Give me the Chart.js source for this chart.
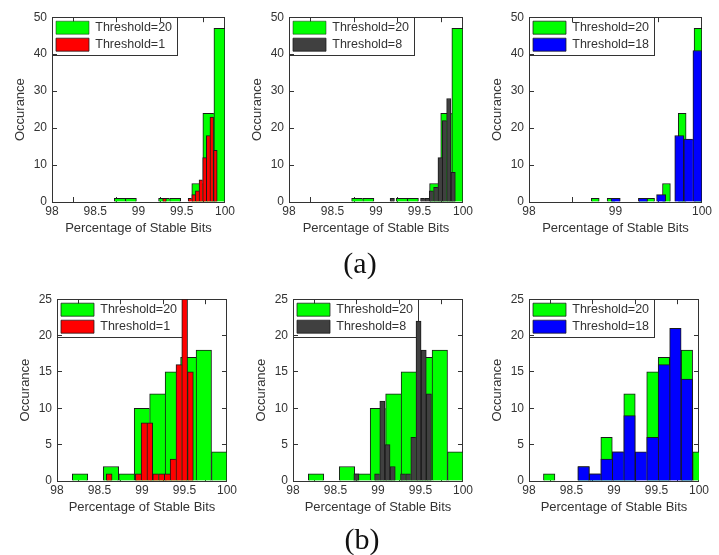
<!DOCTYPE html>
<html>
<head>
<meta charset="utf-8">
<script src="https://cdn.jsdelivr.net/npm/chart.js@4.4.1/dist/chart.umd.min.js"></script>
<style>
  html, body { margin: 0; padding: 0; background: #fff; }
  #fig { position: relative; width: 719px; height: 555px; overflow: hidden; background: #fff; }
  #fig canvas { position: absolute; }
  .cap { position: absolute; font-family: "Liberation Serif", "Times New Roman", serif; font-size: 30px; color: #111; transform: translate(-50%, -50%); }
</style>
</head>
<body>
<div id="fig">
  <canvas id="a1"></canvas>
  <canvas id="a2"></canvas>
  <canvas id="a3"></canvas>
  <canvas id="b1"></canvas>
  <canvas id="b2"></canvas>
  <canvas id="b3"></canvas>
  <div class="cap" style="left:360px; top:263px;">(a)</div>
  <div class="cap" style="left:362px; top:539px;">(b)</div>
</div>
<script>
// histogram bins: bin centres (% stable bits) and counts

// (a) threshold=20 reference, 10 bins
const aT20Centers = [98.784, 98.912, 99.040, 99.168, 99.296, 99.424, 99.552, 99.680, 99.808, 99.936];
const aT20Counts  = [1, 1, 0, 0, 1, 1, 0, 5, 24, 47];
// (a) threshold=1
const aT1Centers = [99.301, 99.343, 99.385, 99.427, 99.469, 99.511, 99.553, 99.595, 99.637, 99.679, 99.721, 99.763, 99.805, 99.847, 99.889];
const aT1Counts  = [1, 0, 0, 0, 0, 0, 0, 1, 2, 3, 6, 12, 18, 23, 14];
// (a) threshold=8
const aT8Centers = [99.187, 99.237, 99.287, 99.337, 99.387, 99.437, 99.487, 99.537, 99.587, 99.637, 99.687, 99.737, 99.787, 99.837, 99.887];
const aT8Counts  = [1, 0, 0, 0, 0, 0, 0, 1, 1, 3, 4, 12, 22, 28, 8];
// (a) third panel: threshold=20 with finer bins, and threshold=18
const aT20bCenters = [98.766, 98.857, 98.949, 99.040, 99.131, 99.223, 99.314, 99.406, 99.497, 99.589, 99.680, 99.771, 99.863, 99.954];
const aT20bCounts  = [1, 0, 1, 0, 0, 0, 1, 1, 0, 5, 0, 24, 0, 47];
const aT18Centers = [99.0025, 99.1075, 99.2125, 99.3175, 99.4225, 99.5275, 99.6325, 99.7375, 99.8425, 99.9475];
const aT18Counts  = [1, 0, 0, 1, 0, 2, 0, 18, 17, 41];

// (b) threshold=20 reference, 10 bins
const bT20Centers = [98.271, 98.453, 98.635, 98.817, 98.999, 99.181, 99.363, 99.545, 99.727, 99.909];
const bT20Counts  = [1, 0, 2, 1, 10, 12, 15, 17, 18, 4];
// (b) threshold=1
const bT1Centers = [98.614, 98.682, 98.751, 98.819, 98.887, 98.956, 99.024, 99.092, 99.161, 99.229, 99.297, 99.365, 99.434, 99.502, 99.570];
const bT1Counts  = [1, 0, 0, 0, 0, 1, 8, 8, 1, 1, 1, 3, 16, 25, 15];
// (b) threshold=8
const bT8Centers = [98.746, 98.807, 98.868, 98.929, 98.990, 99.051, 99.112, 99.173, 99.234, 99.295, 99.355, 99.416, 99.477, 99.538, 99.599];
const bT8Counts  = [1, 0, 0, 0, 1, 11, 5, 2, 0, 1, 1, 6, 22, 18, 12];
// (b) third panel: threshold=20 on the threshold=18 bin grid, and threshold=18
const bT20bCenters = [98.2375, 98.3725, 98.5075, 98.6425, 98.7775, 98.9125, 99.0475, 99.1825, 99.3175, 99.4525, 99.5875, 99.7225, 99.8575, 99.9925];
const bT20bCounts  = [1, 0, 0, 2, 1, 6, 4, 12, 0, 15, 17, 0, 18, 4];
const bT18Centers = [98.6425, 98.7775, 98.9125, 99.0475, 99.1825, 99.3175, 99.4525, 99.5875, 99.7225, 99.8575];
const bT18Counts  = [2, 1, 3, 4, 9, 4, 6, 16, 21, 14];

// ticks
const xTicksHalf = [98, 98.5, 99, 99.5, 100];
const xTicksOne  = [98, 99, 100];
const yTicksA = [0, 10, 20, 30, 40, 50];
const yTicksB = [0, 5, 10, 15, 20, 25];

const GREEN = '#00ff00', RED = '#ff0000', GRAY = '#404040', BLUE = '#0000ff';
const AXIS = '#333333', TEXT = '#333333', EDGE = '#1a1a1a';

Chart.defaults.font.family = '"Liberation Sans", Arial, sans-serif';
Chart.defaults.color = TEXT;

function points(xs, ys){
    return xs.map((x, i) => ({x: x, y: ys[i]}));
}

// MATLAB-like single edges between adjacent bars
function barEdge(ctx){
    const d = ctx.dataset && ctx.dataset.data;
    const i = ctx.dataIndex;
    if(!d || i === undefined || !d[i]) return 1;
    const next = d[i + 1];
    return {top: 1, left: 1, bottom: 0, right: (!next || next.y < d[i].y) ? 1 : 0};
}

// legend sits inside the axes (top-left) with a white box and thin frame
const legendFrame = {
    id: 'legendFrame',
    afterLayout(chart){
        const lg = chart.legend;
        if(!lg) return;
        lg.top = chart.chartArea.top;
        lg.bottom = chart.chartArea.bottom;
    },
    beforeDraw(chart){
        const lg = chart.legend;
        if(!lg || !lg.legendHitBoxes || !lg.legendHitBoxes.length) return;
        const a = chart.chartArea;
        let r = 0, b = 0;
        lg.legendHitBoxes.forEach(h => {
            r = Math.max(r, h.left + h.width);
            b = Math.max(b, h.top + h.height);
        });
        const c = chart.ctx;
        const x0 = Math.round(a.left) + 0.5, y0 = Math.round(a.top) + 0.5;
        const x1 = Math.round(r + 5) + 0.5, y1 = Math.round(b + 4) + 0.5;
        c.save();
        c.fillStyle = '#fff';
        c.fillRect(x0, y0, x1 - x0, y1 - y0);
        c.strokeStyle = AXIS;
        c.lineWidth = 1;
        c.strokeRect(x0, y0, x1 - x0, y1 - y0);
        c.restore();
    }
};

function histChart(id, box, xTicks, yTicks, base, other){
    const cv = document.getElementById(id);
    cv.width = 52 + box.w + 12;
    cv.height = 15 + box.h + 40;
    cv.style.left = (box.x - 52) + 'px';
    cv.style.top = (box.y - 15) + 'px';

    const grid = {drawOnChartArea: false, tickLength: -5, color: AXIS, lineWidth: 1};
    const border = {color: AXIS, width: 1};
    const setTicks = vals => s => { s.ticks = vals.map(v => ({value: v})); };
    const yMax = yTicks[yTicks.length - 1];

    const ds = (s, axis, order) => ({
        label: s.label,
        data: points(s.x, s.y),
        xAxisID: axis,
        backgroundColor: s.color,
        borderColor: EDGE,
        borderWidth: barEdge,
        borderSkipped: false,
        grouped: false,
        barPercentage: 1,
        categoryPercentage: 1,
        order: order
    });

    return new Chart(cv, {
        type: 'bar',
        data: {datasets: [ds(base, 'x', 2), ds(other, 'xt', 1)]},
        options: {
            responsive: false,
            animation: false,
            events: [],
            datasets: {bar: {barPercentage: 1, categoryPercentage: 1, grouped: false}},
            layout: {padding: {top: 15, right: 12, left: 0, bottom: 0}},
            scales: {
                x: {
                    type: 'linear', position: 'bottom', min: 98, max: 100, offset: false,
                    afterBuildTicks: setTicks(xTicks),
                    afterFit: s => { s.height = 40; },
                    ticks: {padding: 7, maxRotation: 0, autoSkip: false, font: {size: 12}, callback: v => String(v)},
                    grid: grid, border: border,
                    title: {display: true, text: 'Percentage of Stable Bits', font: {size: 13}, padding: {top: 0, bottom: 6}}
                },
                xt: {
                    type: 'linear', position: 'top', min: 98, max: 100, offset: false,
                    afterBuildTicks: setTicks(xTicks),
                    afterFit: s => { s.height = 0; },
                    ticks: {display: false},
                    grid: grid, border: border
                },
                y: {
                    type: 'linear', position: 'left', min: 0, max: yMax,
                    afterBuildTicks: setTicks(yTicks),
                    afterFit: s => { s.width = 52; },
                    ticks: {padding: 10, font: {size: 12}},
                    grid: grid, border: border,
                    title: {display: true, text: 'Occurance', font: {size: 13}, padding: {top: 13, bottom: 0}}
                },
                yr: {
                    type: 'linear', position: 'right', min: 0, max: yMax,
                    afterBuildTicks: setTicks(yTicks),
                    afterFit: s => { s.width = 0; },
                    ticks: {display: false},
                    grid: grid, border: border
                }
            },
            plugins: {
                legend: {
                    position: 'chartArea', align: 'start',
                    labels: {
                        boxWidth: 33, boxHeight: 13, padding: 4, color: TEXT,
                        font: {size: 12.5},
                        sort: (a, b) => a.datasetIndex - b.datasetIndex
                    }
                },
                tooltip: {enabled: false}
            }
        },
        plugins: [legendFrame]
    });
}

const aRef  = {label: 'Threshold=20', x: aT20Centers, y: aT20Counts, color: GREEN};
const aRefB = {label: 'Threshold=20', x: aT20bCenters, y: aT20bCounts, color: GREEN};
const bRef  = {label: 'Threshold=20', x: bT20Centers, y: bT20Counts, color: GREEN};
const bRefB = {label: 'Threshold=20', x: bT20bCenters, y: bT20bCounts, color: GREEN};

histChart('a1', {x: 52, y: 15, w: 178, h: 187}, xTicksHalf, yTicksA, aRef,
    {label: 'Threshold=1', x: aT1Centers, y: aT1Counts, color: RED});
histChart('a2', {x: 289, y: 15, w: 179, h: 187}, xTicksHalf, yTicksA, aRef,
    {label: 'Threshold=8', x: aT8Centers, y: aT8Counts, color: GRAY});
histChart('a3', {x: 529, y: 15, w: 178, h: 187}, xTicksOne, yTicksA, aRefB,
    {label: 'Threshold=18', x: aT18Centers, y: aT18Counts, color: BLUE});

histChart('b1', {x: 57, y: 297, w: 175, h: 184}, xTicksHalf, yTicksB, bRef,
    {label: 'Threshold=1', x: bT1Centers, y: bT1Counts, color: RED});
histChart('b2', {x: 293, y: 297, w: 175, h: 184}, xTicksHalf, yTicksB, bRef,
    {label: 'Threshold=8', x: bT8Centers, y: bT8Counts, color: GRAY});
histChart('b3', {x: 529, y: 297, w: 175, h: 184}, xTicksHalf, yTicksB, bRefB,
    {label: 'Threshold=18', x: bT18Centers, y: bT18Counts, color: BLUE});
</script>
</body>
</html>
